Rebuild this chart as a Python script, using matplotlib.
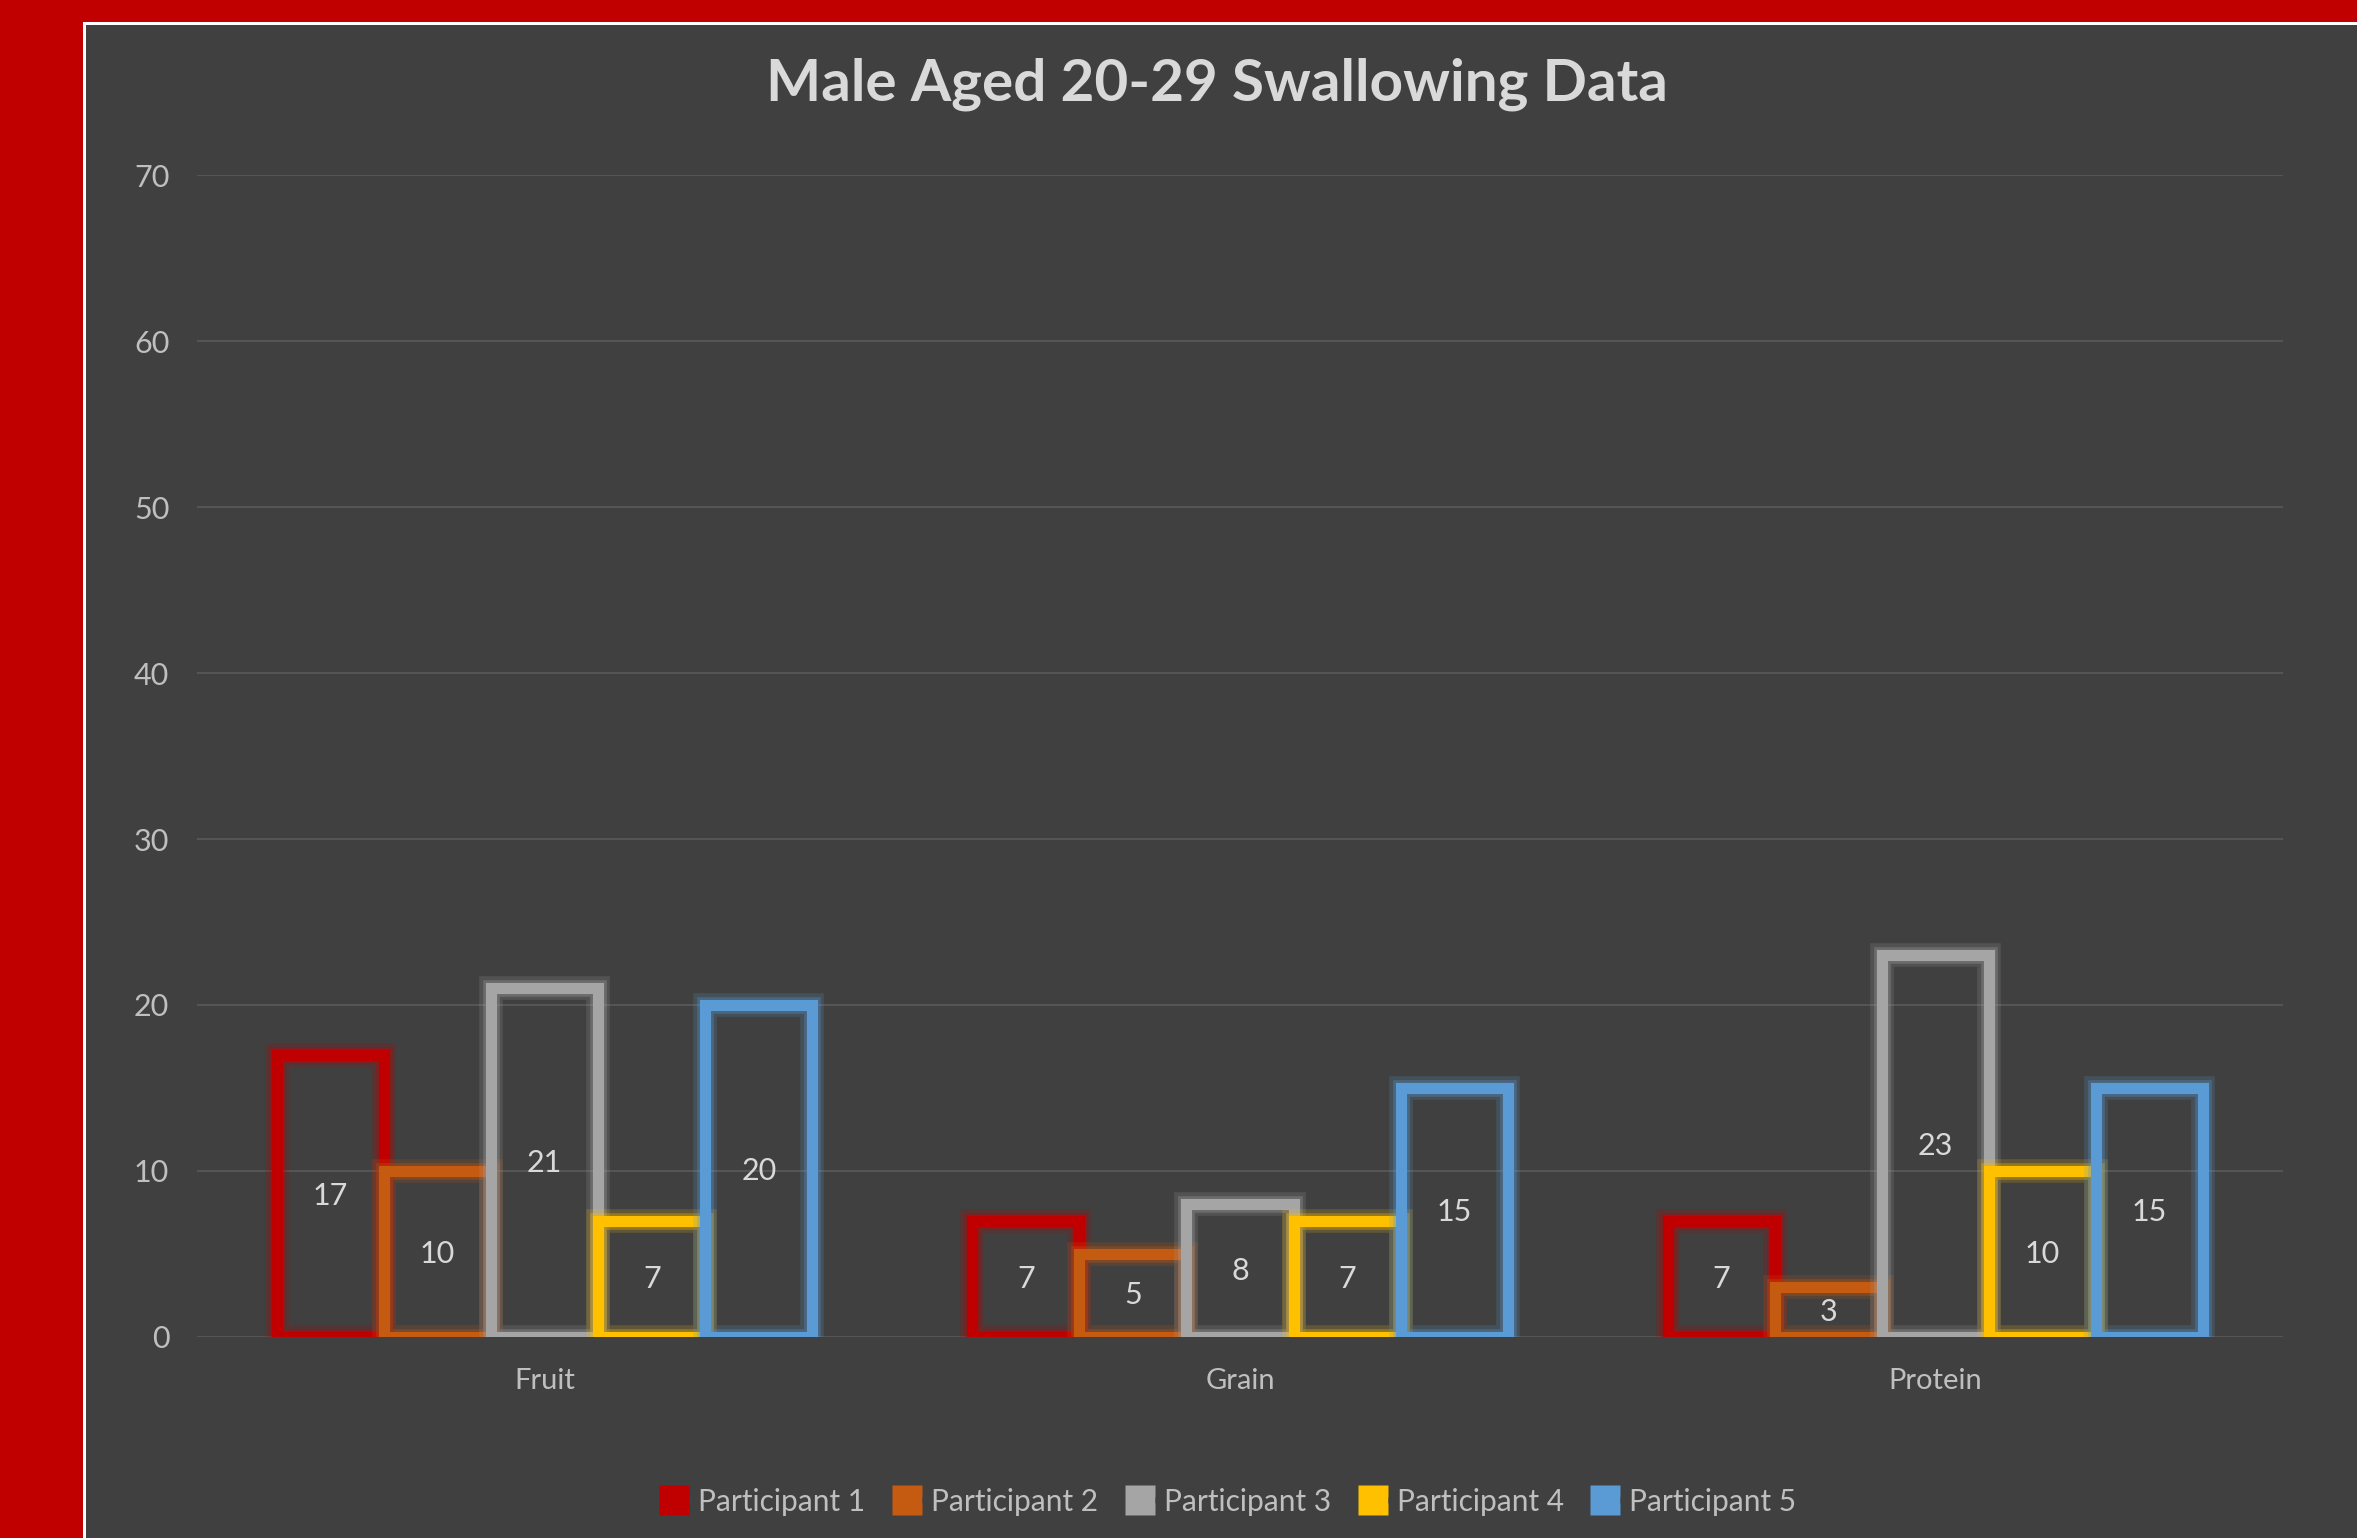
import numpy as np
import matplotlib.pyplot as plt
import matplotlib.patheffects as pe
from matplotlib.lines import Line2D
from matplotlib.legend_handler import HandlerTuple
from matplotlib.patches import Rectangle

plt.rcParams['font.family'] = ['Lato', 'DejaVu Sans']

categories = ['Fruit', 'Grain', 'Protein']
participants = ['Participant 1', 'Participant 2', 'Participant 3', 'Participant 4', 'Participant 5']
p1 = [17, 7, 7]
p2 = [10, 5, 3]
p3 = [21, 8, 23]
p4 = [7, 7, 10]
p5 = [20, 15, 15]
colors = ['#C00000', '#C55A11', '#A5A5A5', '#FFC000', '#5B9BD5']

bg = '#404040'
text_col = '#BFBFBF'

fig = plt.figure(figsize=(23.57, 15.38), dpi=100)
fig.patch.set_facecolor(bg)

# red frame on the left and top, with a thin white edge
fig.patches.append(Rectangle((0, 0), 83 / 2357, 1, transform=fig.transFigure,
                             facecolor='#C00000', edgecolor='none', zorder=0))
fig.patches.append(Rectangle((0, 1 - 22 / 1538), 1, 22 / 1538, transform=fig.transFigure,
                             facecolor='#C00000', edgecolor='none', zorder=0))
fig.patches.append(Rectangle((83 / 2357, 0), 2.5 / 2357, 1 - 22 / 1538, transform=fig.transFigure,
                             facecolor='white', edgecolor='none', zorder=1))
fig.patches.append(Rectangle((83 / 2357, 1 - 24.5 / 1538), 1, 2.5 / 1538, transform=fig.transFigure,
                             facecolor='white', edgecolor='none', zorder=1))

ax = fig.add_axes([0.0836, 0.1307, 0.885, 0.7555])
ax.set_facecolor(bg)

x = np.arange(len(categories))
width = 0.154
series = [p1, p2, p3, p4, p5]
for i, vals in enumerate(series):
    bars = ax.bar(x + (i - 2) * width, vals, width, facecolor='none',
                  edgecolor=colors[i], linewidth=8, label=participants[i], zorder=3)
    for b in bars:
        b.set_path_effects([pe.Stroke(linewidth=17, foreground=colors[i], alpha=0.18),
                            pe.Stroke(linewidth=12, foreground=colors[i], alpha=0.3),
                            pe.Normal()])
    ax.bar_label(bars, label_type='center', color='#D9D9D9', fontsize=22, zorder=4)

ax.set_ylim(0, 70)
ax.set_xlim(-0.5, 2.5)
ax.set_yticks(np.arange(0, 71, 10))
ax.set_xticks(x)
ax.set_xticklabels(categories)
ax.tick_params(axis='both', length=0, colors=text_col)
ax.tick_params(axis='y', pad=20, labelsize=22)
ax.tick_params(axis='x', pad=22, labelsize=21)
ax.grid(axis='y', color='#555555', linewidth=1.5, zorder=0)
for s in ax.spines.values():
    s.set_visible(False)

fig.text(0.5165, 0.9455, 'Male Aged 20-29 Swallowing Data', ha='center', va='center',
         fontsize=42, fontweight='bold', color='#D9D9D9')

handles = [(Line2D([], [], marker='s', linestyle='none', markersize=21, markerfacecolor=c,
                   markeredgecolor='none'),
            Line2D([], [], marker='s', linestyle='none', markersize=4, markerfacecolor=bg,
                   markeredgecolor='none')) for c in colors]
fig.legend(handles, participants, handler_map={tuple: HandlerTuple(ndivide=None)},
           loc='center', bbox_to_anchor=(0.5235, 0.0235), ncol=5, frameon=False,
           fontsize=21.5, labelcolor=text_col, handlelength=0.8, handletextpad=0.1,
           columnspacing=1.3)

fig.savefig('out.png', dpi=100, facecolor=fig.get_facecolor())
